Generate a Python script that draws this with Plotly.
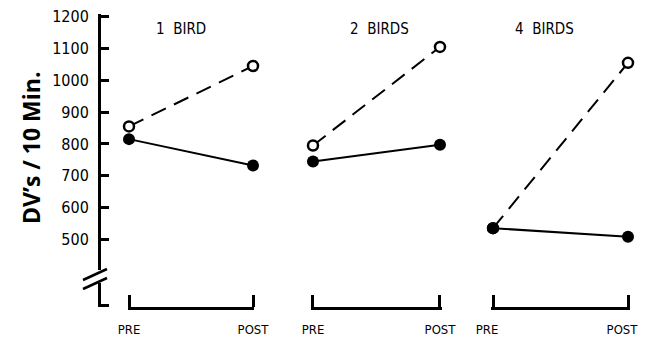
import plotly.graph_objects as go

# ---- data ----
phases = ["PRE", "POST"]
panel_titles = ["1  BIRD", "2  BIRDS", "4  BIRDS"]
open_vals = [[855, 1045], [795, 1105], [535, 1055]]     # open circles, dashed
filled_vals = [[815, 732], [745, 797], [535, 508]]      # filled circles, solid
y_ticks = [500, 600, 700, 800, 900, 1000, 1100, 1200]

W, H = 647, 338
OFF = 8  # page body margin offset
FONT_N = "Liberation Sans Narrow, DejaVu Sans Condensed, sans-serif"

def px_x(p):
    return (p - OFF) / W

def px_y(p):
    return 1 - (p - OFF) / H

fig = go.Figure()

brackets = [(129, 253), (313, 440), (493, 628)]
label_shift = [0, 0, -6]
axnames = ["x", "x2", "x3"]
for i in range(3):
    fig.add_trace(go.Scatter(
        x=phases, y=open_vals[i], xaxis=axnames[i], yaxis="y",
        mode="lines+markers", cliponaxis=False,
        line=dict(color="black", width=2, dash="16px,9px"),
        marker=dict(symbol="circle", size=10, color="white",
                    line=dict(color="black", width=2.5)),
        showlegend=False))
    fig.add_trace(go.Scatter(
        x=phases, y=filled_vals[i], xaxis=axnames[i], yaxis="y",
        mode="lines+markers", cliponaxis=False,
        line=dict(color="black", width=2),
        marker=dict(symbol="circle", size=12, color="black"),
        showlegend=False))

PAD = 0.012
xcommon = dict(
    type="category", range=[-PAD, 1 + PAD], showline=True, linecolor="black",
    linewidth=3, ticks="inside", ticklen=12, tickwidth=3, tickcolor="black",
    showgrid=False, zeroline=False, anchor="y", automargin=False,
    tickfont=dict(family=FONT_N, size=13, color="black"),
    ticklabelstandoff=8, ticklabeloverflow="allow",
)
layout = dict(
    width=W, height=H, margin=dict(l=0, r=0, t=0, b=0, autoexpand=False),
    paper_bgcolor="white", plot_bgcolor="white", showlegend=False,
)
for i, (a, b) in enumerate(brackets):
    key = "xaxis" if i == 0 else f"xaxis{i+1}"
    span = b - a
    layout[key] = dict(domain=[px_x(a - PAD * span), px_x(b + PAD * span)],
                       ticklabelshift=label_shift[i], **xcommon)

y_bottom_px, y_top_px = 307, 14
def val_at(p):
    return 1200 - (p - 16.7) / 0.318

layout["yaxis"] = dict(
    domain=[px_y(y_bottom_px), px_y(y_top_px)],
    range=[val_at(y_bottom_px), val_at(y_top_px)],
    anchor="free", position=px_x(99), automargin=False,
    showline=True, linecolor="black", linewidth=3,
    ticks="inside", ticklen=8, tickwidth=3, tickcolor="black",
    tickvals=y_ticks + [val_at(305.5)],
    ticktext=[str(v) for v in y_ticks] + [""],
    tickfont=dict(family=FONT_N, size=16, color="black"),
    ticklabelstandoff=6, ticklabeloverflow="allow",
    showgrid=False, zeroline=False,
)
fig.update_layout(**layout)

# axis break
shapes = [
    dict(type="rect", xref="paper", yref="paper",
         x0=px_x(93), x1=px_x(106), y0=px_y(283), y1=px_y(270),
         fillcolor="white", line=dict(width=0), layer="above"),
    dict(type="line", xref="paper", yref="paper",
         x0=px_x(83), y0=px_y(280), x1=px_x(107), y1=px_y(269),
         line=dict(color="black", width=2.5), layer="above"),
    dict(type="line", xref="paper", yref="paper",
         x0=px_x(83), y0=px_y(289), x1=px_x(107), y1=px_y(278),
         line=dict(color="black", width=2.5), layer="above"),
]
fig.update_layout(shapes=shapes)

annos = []
title_x = [181, 379, 544]
for t, cx in zip(panel_titles, title_x):
    annos.append(dict(text=t, x=px_x(cx), y=px_y(29), xref="paper", yref="paper",
                      showarrow=False, xanchor="center", yanchor="middle",
                      font=dict(family=FONT_N, size=15, color="black")))
annos.append(dict(text="<b>DV’s / 10 Min.</b>", x=px_x(31), y=px_y(148),
                  xref="paper", yref="paper", showarrow=False, textangle=-90,
                  xanchor="center", yanchor="middle",
                  font=dict(family="Open Sans, DejaVu Sans, sans-serif", size=23, color="black")))
fig.update_layout(annotations=annos)

fig.write_html("out.html")
